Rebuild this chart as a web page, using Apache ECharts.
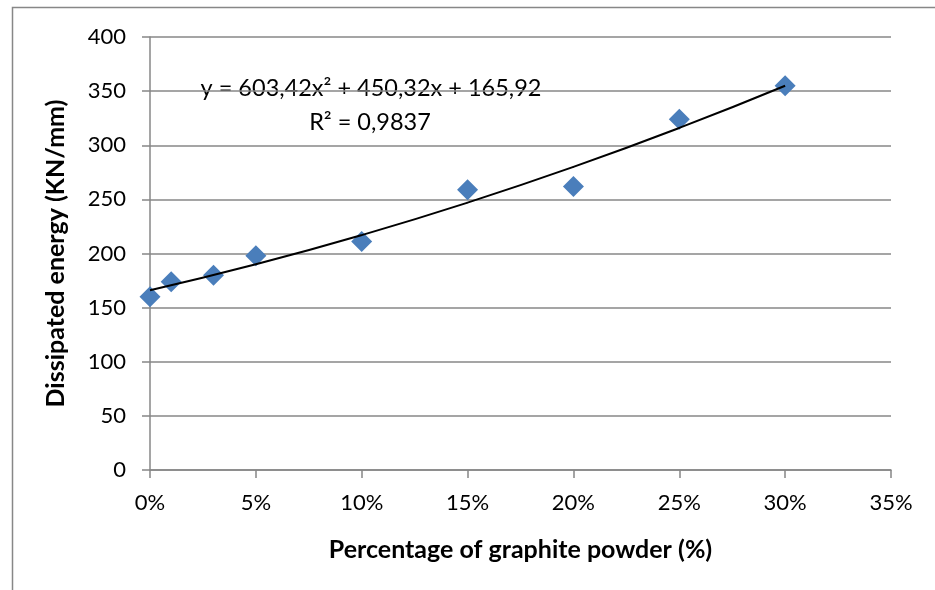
<!DOCTYPE html>
<html>
<head>
<meta charset="utf-8">
<script src="https://cdn.jsdelivr.net/npm/echarts@6/dist/echarts.min.js"></script>
<style>
  html, body { margin: 0; padding: 0; background: #fff; }
  #chart { width: 935px; height: 590px; }
</style>
</head>
<body>
<div id="chart"></div>
<script>
// measured points (% graphite, dissipated energy)
const graphitePct = [0, 1, 3, 5, 10, 15, 20, 25, 30]
const energy = [160, 174, 180, 198, 211, 259, 262, 324, 355]

// trendline
const trendPct = [0, 5, 10, 15, 20, 25, 30]
const trendVal = [166, 190, 217, 247, 280, 316, 355]

const xTicks = [0, 5, 10, 15, 20, 25, 30, 35]
const yTicks = [0, 50, 100, 150, 200, 250, 300, 350, 400]

const gray = '#878787'
const font = 'Lato, "Liberation Sans", sans-serif'

const chart = echarts.init(document.getElementById('chart'))

const option = {
  backgroundColor: '#fff',
  animation: false,
  grid: { left: 150, right: 44, top: 37, bottom: 120 },
  xAxis: {
    type: 'value',
    min: xTicks[0],
    max: xTicks[xTicks.length - 1],
    interval: 5,
    name: 'Percentage of graphite powder (%)',
    nameLocation: 'middle',
    nameGap: 67,
    nameTextStyle: { fontFamily: font, fontSize: 25, fontWeight: 'bold', color: '#000' },
    axisLine: { show: true, lineStyle: { color: gray, width: 1.5 } },
    axisTick: { show: true, length: 8, lineStyle: { color: gray, width: 1.5 } },
    axisLabel: { formatter: '{value}%', margin: 22, fontFamily: font, fontSize: 22, color: '#000' },
    splitLine: { show: false }
  },
  yAxis: {
    type: 'value',
    min: yTicks[0],
    max: yTicks[yTicks.length - 1],
    interval: 50,
    name: 'Dissipated energy (KN/mm)',
    nameLocation: 'middle',
    nameGap: 82,
    nameTextStyle: { fontFamily: font, fontSize: 25, fontWeight: 'bold', color: '#000' },
    axisLine: { show: true, lineStyle: { color: gray, width: 1.5 } },
    axisTick: { show: true, length: 8, lineStyle: { color: gray, width: 1.5 } },
    axisLabel: { margin: 24, fontFamily: font, fontSize: 22, color: '#000' },
    splitLine: { show: true, lineStyle: { color: gray, width: 1.5 } }
  },
  graphic: [
    {
      type: 'rect',
      silent: true,
      shape: { x: 12.5, y: 7.5, width: 940, height: 600 },
      style: { fill: 'none', stroke: gray, lineWidth: 1.5 }
    },
    {
      type: 'text',
      x: 371,
      y: 88,
      style: {
        text: 'y = 603,42x² + 450,32x + 165,92',
        fontFamily: font,
        fontSize: 23.5,
        fill: '#000',
        align: 'center',
        verticalAlign: 'middle'
      }
    },
    {
      type: 'text',
      x: 370,
      y: 122,
      style: {
        text: 'R² = 0,9837',
        fontFamily: font,
        fontSize: 23.5,
        fill: '#000',
        align: 'center',
        verticalAlign: 'middle'
      }
    }
  ],
  series: [
    {
      name: 'Dissipated energy',
      type: 'scatter',
      data: graphitePct.map((x, i) => [x, energy[i]]),
      symbol: 'diamond',
      symbolSize: [21, 21],
      itemStyle: { color: '#4A7EBB', opacity: 1 },
      z: 2
    },
    {
      name: 'Trend',
      type: 'line',
      data: trendPct.map((x, i) => [x, trendVal[i]]),
      smooth: true,
      showSymbol: false,
      lineStyle: { color: '#000', width: 2 },
      z: 3
    }
  ]
}

chart.setOption(option)
</script>
</body>
</html>
